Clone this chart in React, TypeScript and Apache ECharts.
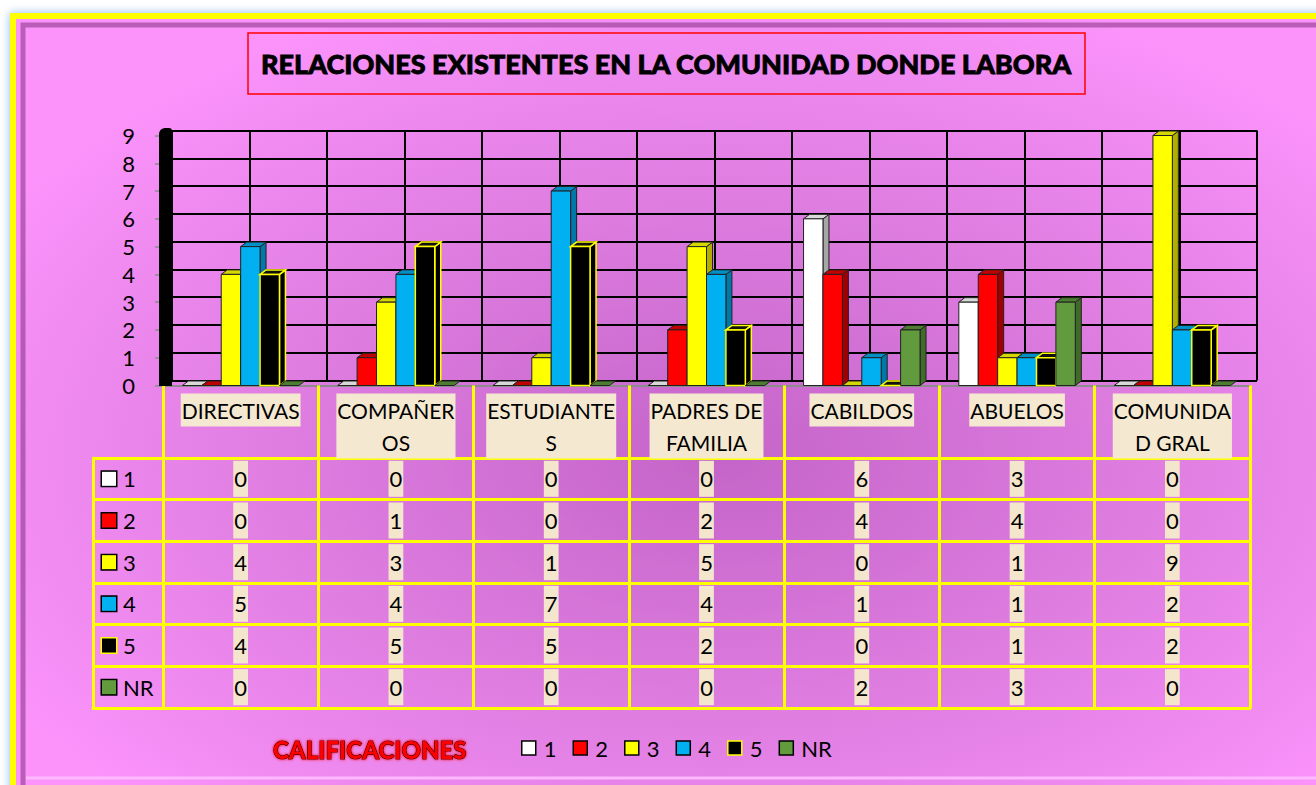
import React, { useEffect, useRef } from 'react';
import * as echarts from 'echarts';

const categories = ['DIRECTIVAS', 'COMPAÑER\nOS', 'ESTUDIANTE\nS', 'PADRES DE\nFAMILIA', 'CABILDOS', 'ABUELOS', 'COMUNIDA\nD GRAL'];
const seriesNames = ['1', '2', '3', '4', '5', 'NR'];
const values1 = [0, 0, 0, 0, 6, 3, 0];
const values2 = [0, 1, 0, 2, 4, 4, 0];
const values3 = [4, 3, 1, 5, 0, 1, 9];
const values4 = [5, 4, 7, 4, 1, 1, 2];
const values5 = [4, 5, 5, 2, 0, 1, 2];
const valuesNR = [0, 0, 0, 0, 2, 3, 0];
const allValues = [values1, values2, values3, values4, values5, valuesNR];
const yMin = 0;
const yMax = 9;

const FONT = 'Lato, "Liberation Sans", sans-serif';

const faces = [
  { front: '#ffffff', top: '#d9d9d9', side: '#a6a6a6', stroke: '#222222', sw: 1 },
  { front: '#ff0000', top: '#c00000', side: '#a00000', stroke: '#222222', sw: 1 },
  { front: '#ffff00', top: '#d6d600', side: '#b0b000', stroke: '#222222', sw: 1 },
  { front: '#00b0f0', top: '#0090c8', side: '#0078a8', stroke: '#222222', sw: 1 },
  { front: '#000000', top: '#111111', side: '#000000', stroke: '#ffff00', sw: 1.5 },
  { front: '#629b3e', top: '#4d7d30', side: '#416b28', stroke: '#222222', sw: 1 },
];

export default function App() {
  const ref = useRef<HTMLDivElement>(null);
  useEffect(() => {
    if (!ref.current) return;
    const chart = echarts.init(ref.current, undefined, { renderer: 'svg' });

    const barSeries = allValues.map((vals, si) => ({
      type: 'custom',
      name: seriesNames[si],
      xAxisIndex: 0,
      yAxisIndex: 0,
      z: 5,
      itemStyle: { color: faces[si].front, borderColor: faces[si].stroke, borderWidth: faces[si].sw },
      encode: { x: 0, y: 1 },
      data: vals.map((v, i) => [i, v]),
      renderItem: (params: any, api: any) => {
        const ci = api.value(0);
        const v = api.value(1);
        const p0 = api.coord([ci, 0]);
        const p1 = api.coord([ci, v]);
        const cw = api.size([1, 0])[0];
        const bw = (cw * 0.75) / 6;
        const x0 = p0[0] - 3 * bw + si * bw;
        const x1 = x0 + bw;
        const yb = p0[1];
        const yt = p1[1];
        const dx = 6;
        const dy = -4.5;
        const f = faces[si];
        const st = { stroke: f.stroke, lineWidth: f.sw };
        const children: any[] = [];
        if (v > 0) {
          children.push({
            type: 'polygon',
            shape: { points: [[x1, yt], [x1 + dx, yt + dy], [x1 + dx, yb + dy], [x1, yb]] },
            style: { fill: f.side, ...st },
          });
        }
        children.push({
          type: 'polygon',
          shape: { points: [[x0, yt], [x0 + dx, yt + dy], [x1 + dx, yt + dy], [x1, yt]] },
          style: { fill: f.top, ...st },
        });
        if (v > 0) {
          children.push({
            type: 'rect',
            shape: { x: x0, y: yt, width: bw, height: yb - yt },
            style: { fill: f.front, ...st },
          });
        }
        return { type: 'group', children };
      },
    }));

    const tableData: any[] = [];
    allValues.forEach((vals, r) => vals.forEach((v, c) => tableData.push([c, r, v])));

    const keyRich: any = {
      t: { fontSize: 22, fontFamily: FONT, color: '#000', padding: [0, 0, 0, 7] },
    };
    faces.forEach((f, i) => {
      keyRich['k' + i] = {
        width: 14,
        height: 14,
        backgroundColor: f.front,
        borderColor: i === 4 ? '#ffff00' : '#000',
        borderWidth: 1.5,
      };
    });

    const yellow = { color: '#ffff00', width: 3 };

    const option: any = {
      animation: false,
      title: [
        {
          text: 'RELACIONES EXISTENTES EN LA COMUNIDAD DONDE LABORA',
          left: 248,
          top: 33,
          padding: [17, 13],
          borderColor: '#ff0000',
          borderWidth: 1.5,
          textStyle: {
            fontFamily: FONT,
            fontWeight: 900,
            fontSize: 27,
            color: '#000',
            textBorderColor: '#000',
            textBorderWidth: 0.8,
          },
        },
        {
          text: 'CALIFICACIONES',
          left: 273,
          top: 737,
          padding: 0,
          textStyle: {
            fontFamily: FONT,
            fontWeight: 900,
            fontSize: 24,
            color: '#ff0000',
            textBorderColor: '#000',
            textBorderWidth: 1,
            textShadowColor: '#ff0000',
            textShadowBlur: 3,
          },
        },
      ],
      legend: {
        left: 516,
        top: 732,
        itemWidth: 14,
        itemHeight: 14,
        itemGap: 16,
        icon: 'rect',
        textStyle: { fontFamily: FONT, fontSize: 22, color: '#000', padding: [0, 0, 0, 3] },
        data: seriesNames.map((n, i) => ({
          name: n,
          itemStyle: { color: faces[i].front, borderColor: i === 4 ? '#ffff00' : '#000', borderWidth: 1.5 },
        })),
      },
      graphic: {
        elements: [
          {
            type: 'rect',
            z: -20,
            silent: true,
            shape: { x: 0, y: 0, width: 1316, height: 785 },
            style: { fill: '#ffffff' },
          },
          {
            type: 'rect',
            z: -19,
            silent: true,
            shape: { x: 13, y: 16, width: 1330, height: 800 },
            style: {
              fill: new echarts.graphic.RadialGradient(0.53, 0.55, 0.62, [
                { offset: 0, color: '#c464c8' },
                { offset: 0.55, color: '#e07ee2' },
                { offset: 1, color: '#fb93fb' },
              ]),
              stroke: '#ffff00',
              lineWidth: 6,
              shadowColor: 'rgba(110,170,230,0.8)',
              shadowBlur: 10,
            },
          },
          {
            type: 'polyline',
            z: -18,
            silent: true,
            shape: { points: [[23, 800], [23, 25], [1330, 25]] },
            style: { fill: 'none', stroke: 'rgba(120,40,120,0.5)', lineWidth: 5 },
          },
          {
            type: 'line',
            z: -18,
            silent: true,
            shape: { x1: 26, y1: 778, x2: 1316, y2: 778 },
            style: { stroke: 'rgba(255,190,255,0.9)', lineWidth: 3 },
          },
          {
            type: 'rect',
            z: 20,
            silent: true,
            shape: { x: 159, y: 128, width: 13, height: 258, r: [6, 3, 0, 0] },
            style: { fill: '#000' },
          },
        ],
      },
      grid: [
        { left: 163, right: 66, top: 135.5, bottom: 785 - 385.5 },
        { left: 172, right: 59, top: 130.5, bottom: 785 - 380.5 },
        { left: 163, right: 66, top: 458, bottom: 785 - 708 },
        { left: 93, width: 70, top: 458, bottom: 785 - 708 },
      ],
      xAxis: [
        {
          gridIndex: 0,
          type: 'category',
          data: categories,
          axisLine: { show: true, lineStyle: { color: '#8c8c8c', width: 2 } },
          axisTick: { show: true, interval: 0, length: 73, lineStyle: yellow },
          splitLine: { show: false },
          axisLabel: {
            interval: 0,
            margin: 8,
            fontFamily: FONT,
            fontSize: 21,
            lineHeight: 32,
            color: '#000',
            backgroundColor: '#f5e8d0',
            padding: [1, 1, 0, 1],
          },
          z: 1,
        },
        {
          gridIndex: 1,
          type: 'value',
          min: 0,
          max: 14,
          interval: 1,
          axisLine: { show: false },
          axisTick: { show: false },
          axisLabel: { show: false },
          splitLine: { show: true, lineStyle: { color: '#000', width: 2 } },
        },
        {
          gridIndex: 2,
          type: 'category',
          data: categories,
          axisLine: { show: true, lineStyle: yellow },
          axisTick: { show: false },
          axisLabel: { show: false },
          splitLine: { show: true, interval: 0, lineStyle: yellow },
        },
        {
          gridIndex: 3,
          type: 'category',
          data: ['h'],
          axisLine: { show: true, lineStyle: yellow },
          axisTick: { show: false },
          axisLabel: { show: false },
          splitLine: { show: true, interval: 0, lineStyle: yellow },
        },
      ],
      yAxis: [
        {
          gridIndex: 0,
          type: 'value',
          min: yMin,
          max: yMax,
          interval: 1,
          axisLine: { show: false },
          axisTick: { show: true, length: 8, lineStyle: { color: '#8c8c8c', width: 1.5 } },
          axisLabel: { margin: 28, fontFamily: FONT, fontSize: 22, color: '#000' },
          splitLine: { show: false },
        },
        {
          gridIndex: 1,
          type: 'value',
          min: yMin,
          max: yMax,
          interval: 1,
          axisLine: { show: false },
          axisTick: { show: false },
          axisLabel: { show: false },
          splitLine: { show: true, lineStyle: { color: '#000', width: 2 } },
        },
        {
          gridIndex: 2,
          type: 'category',
          inverse: true,
          data: seriesNames,
          axisLine: { show: true, lineStyle: yellow },
          axisTick: { show: false },
          axisLabel: { show: false },
          splitLine: { show: true, interval: 0, lineStyle: yellow },
        },
        {
          gridIndex: 3,
          type: 'category',
          inverse: true,
          data: seriesNames,
          axisLine: { show: true, lineStyle: yellow },
          axisTick: { show: false },
          splitLine: { show: true, interval: 0, lineStyle: yellow },
          axisLabel: {
            inside: true,
            margin: 9,
            formatter: (v: string, idx: number) => `{k${idx}|}{t|${v}}`,
            rich: keyRich,
          },
        },
      ],
      series: [
        ...barSeries,
        {
          type: 'scatter',
          name: 'tabla',
          xAxisIndex: 2,
          yAxisIndex: 2,
          symbolSize: 0,
          itemStyle: { opacity: 1 },
          encode: { x: 0, y: 1 },
          data: tableData,
          label: {
            show: true,
            position: 'inside',
            formatter: (p: any) => String(p.value[2]),
            fontFamily: FONT,
            fontSize: 22,
            color: '#000',
            opacity: 1,
            backgroundColor: '#f3e6cd',
            padding: [7, 1],
          },
        },
      ],
    };

    chart.setOption(option);
    return () => chart.dispose();
  }, []);

  return (
    <div
      ref={ref}
      style={{ position: 'absolute', left: 0, top: 0, width: 1316, height: 785 }}
    />
  );
}
